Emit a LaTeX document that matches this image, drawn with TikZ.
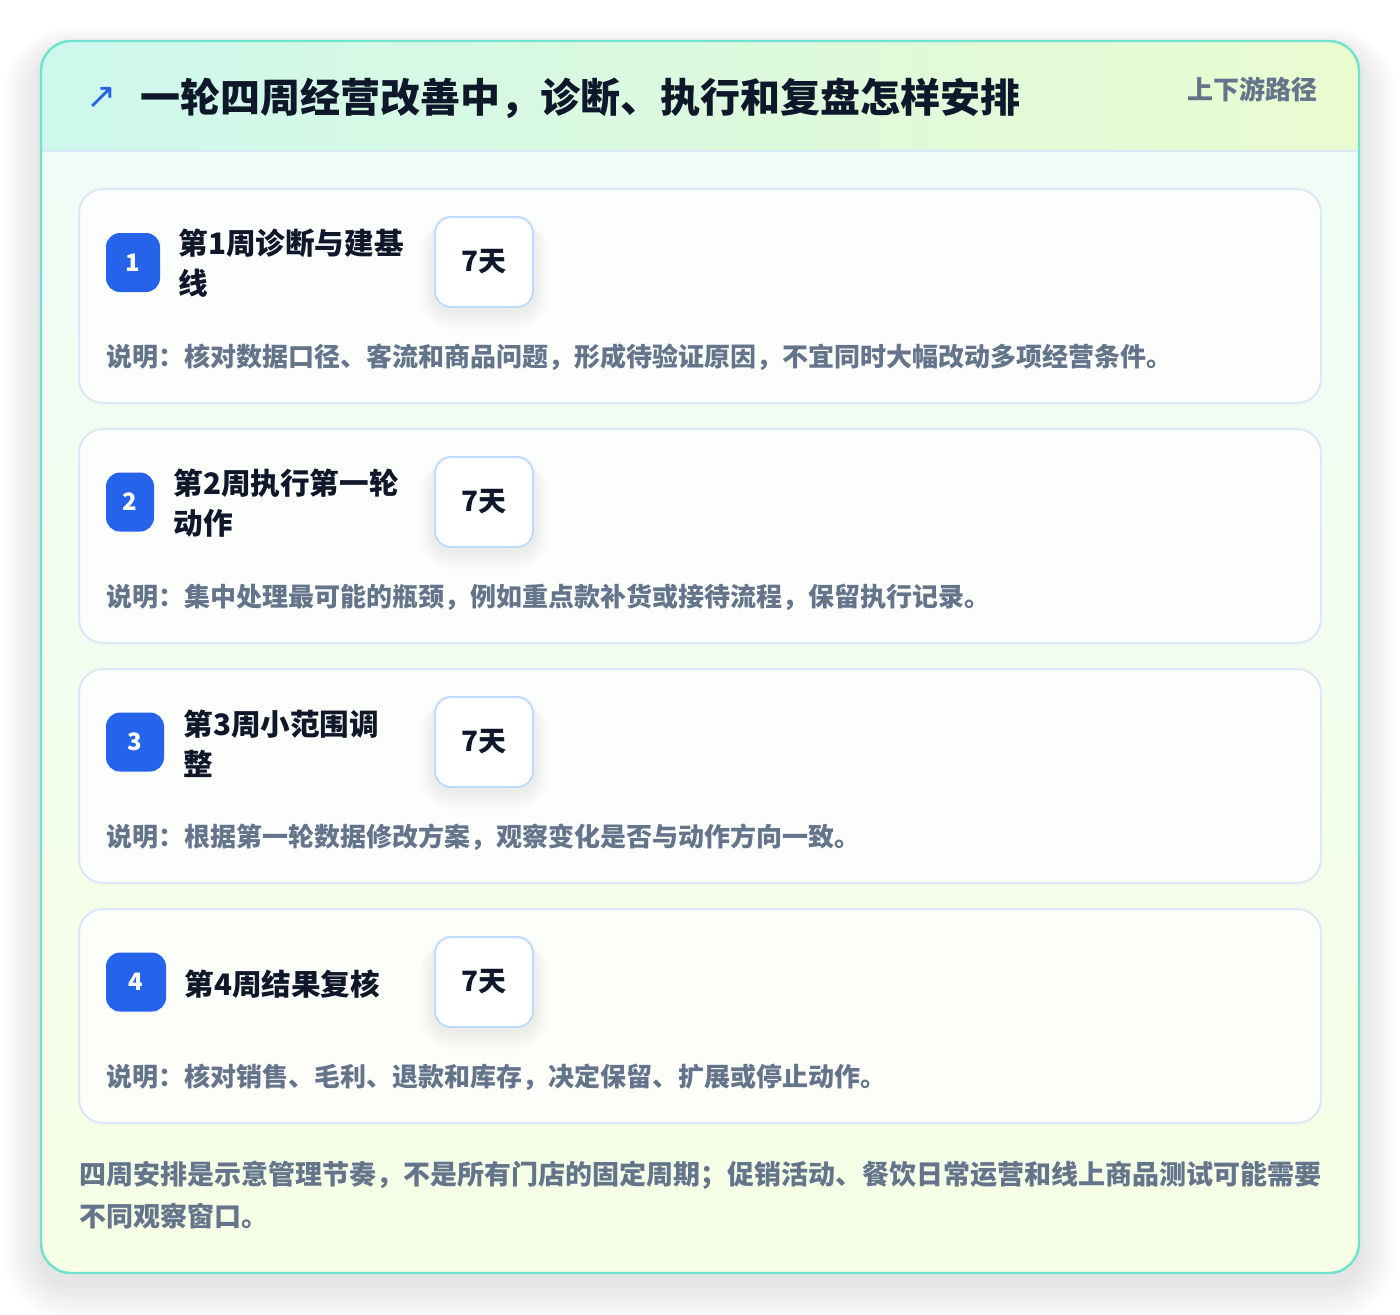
\documentclass[tikz,border=0pt]{standalone}
\usepackage{fontspec}
\setmainfont{Noto Sans CJK SC}
\newfontfamily\symfont{DejaVu Sans}
\usepackage{xcolor}
\usetikzlibrary{positioning}
\definecolor{tealline}{HTML}{6EE3CF}
\definecolor{cardline}{HTML}{DBE8F8}
\definecolor{dayline}{HTML}{BFDBFE}
\definecolor{badgeblue}{HTML}{2563EB}
\definecolor{inkdark}{HTML}{0F172A}
\definecolor{inkgray}{HTML}{64748B}
\definecolor{headleft}{HTML}{CDF8EC}
\definecolor{headright}{HTML}{EAFBD0}
\definecolor{bodytop}{HTML}{EFFDF8}
\definecolor{bodybottom}{HTML}{F6FEE5}
\tikzstyle{card} = [draw=cardline, line width=1pt, fill=white, fill opacity=0.8, rounded corners=12pt]
\tikzstyle{badge} = [fill=badgeblue, text=white, rounded corners=7pt, minimum height=29.5pt,
    font=\fontsize{12pt}{14pt}\selectfont\bfseries, inner sep=0pt]
\tikzstyle{daybox} = [draw=dayline, line width=1pt, fill=white, rounded corners=8pt,
    minimum width=49pt, minimum height=45pt, inner sep=0pt, text=inkdark,
    font=\fontsize{14pt}{16pt}\selectfont\bfseries]
\tikzstyle{steptitle} = [anchor=west, inner sep=0pt, align=left, text=inkdark,
    font=\fontsize{14.8pt}{20pt}\selectfont\bfseries]
\tikzstyle{note} = [anchor=west, inner sep=0pt, text=inkgray,
    font=\fontsize{13pt}{16pt}\selectfont\bfseries]
\tikzstyle{haze} = [fill=black, fill opacity=0.006]
\begin{document}
\begin{tikzpicture}[x=0.5pt, y=-0.5pt]
    \useasboundingbox [fill=white] (0,0) rectangle (1400,1314);
    % soft shadow of the panel
    \foreach \d in {2,5,...,38}
        \fill [haze, rounded corners=15pt+0.5*\d pt] (41-\d,51-0.6*\d) rectangle (1359+\d,1283+\d);
    \begin{scope}
        \clip [rounded corners=15pt] (41,41) rectangle (1359,1273);
        \shade [top color=bodytop, bottom color=bodybottom] (41,41) rectangle (1359,1273);
        \shade [left color=headleft, right color=headright] (41,41) rectangle (1359,151);
        \draw [cardline, line width=1pt] (41,151) -- (1359,151);
    \end{scope}
    \draw [tealline, line width=1.2pt, rounded corners=15pt] (41,41) rectangle (1359,1273);

    % header
    \node (icon) [anchor=center, inner sep=0pt, text=badgeblue, font=\symfont\fontsize{18pt}{18pt}\selectfont] at (102,98) {↗};
    \node (title) [anchor=west, inner sep=0pt, text=inkdark, font=\fontsize{20pt}{24pt}\selectfont\bfseries] at (140,98) {一轮四周经营改善中，诊断、执行和复盘怎样安排};
    \node (path) [anchor=east, inner sep=0pt, text=inkgray, font=\fontsize{13pt}{15pt}\selectfont\bfseries] at (1318,89) {上下游路径};

    % step cards
    \foreach \top in {189,429,669,909} {
        \draw [card] (79,\top) rectangle (1321,\top+214);
        % shadow under the day box
        \foreach \d in {2,4,...,16}
            \fill [fill=black, fill opacity=0.006, rounded corners=8pt+0.5*\d pt]
                (435-\d,\top+28+0.4*\d) rectangle (533+\d,\top+124+\d);
    }

    % week 1
    \node (badge1) [badge, minimum width=27pt] at (133,262.5) {1};
    \node (week1) [steptitle] at (178,263) {第1周诊断与建基\\线};
    \node (days1) [daybox] at (484,262) {7天};
    \node (note1) [note] at (106,357) {说明：核对数据口径、客流和商品问题，形成待验证原因，不宜同时大幅改动多项经营条件。};

    % week 2
    \node (badge2) [badge, minimum width=24pt] at (130,502) {2};
    \node (week2) [steptitle] at (173,503.5) {第2周执行第一轮\\动作};
    \node (days2) [daybox] at (484,502) {7天};
    \node (note2) [note] at (106,597) {说明：集中处理最可能的瓶颈，例如重点款补货或接待流程，保留执行记录。};

    % week 3
    \node (badge3) [badge, minimum width=29pt] at (135,742) {3};
    \node (week3) [steptitle] at (183,743.5) {第3周小范围调\\整};
    \node (days3) [daybox] at (484,742) {7天};
    \node (note3) [note] at (106,837) {说明：根据第一轮数据修改方案，观察变化是否与动作方向一致。};

    % week 4
    \node (badge4) [badge, minimum width=30pt] at (136,982) {4};
    \node (week4) [steptitle] at (184,984) {第4周结果复核};
    \node (days4) [daybox] at (484,982) {7天};
    \node (note4) [note] at (106,1077) {说明：核对销售、毛利、退款和库存，决定保留、扩展或停止动作。};

    % footnote
    \node (foot) [anchor=north west, inner sep=0pt, align=left, text=inkgray,
        font=\fontsize{13.5pt}{21pt}\selectfont\bfseries] at (79,1161)
        {四周安排是示意管理节奏，不是所有门店的固定周期；促销活动、餐饮日常运营和线上商品测试可能需要\\不同观察窗口。};
\end{tikzpicture}
\end{document}
